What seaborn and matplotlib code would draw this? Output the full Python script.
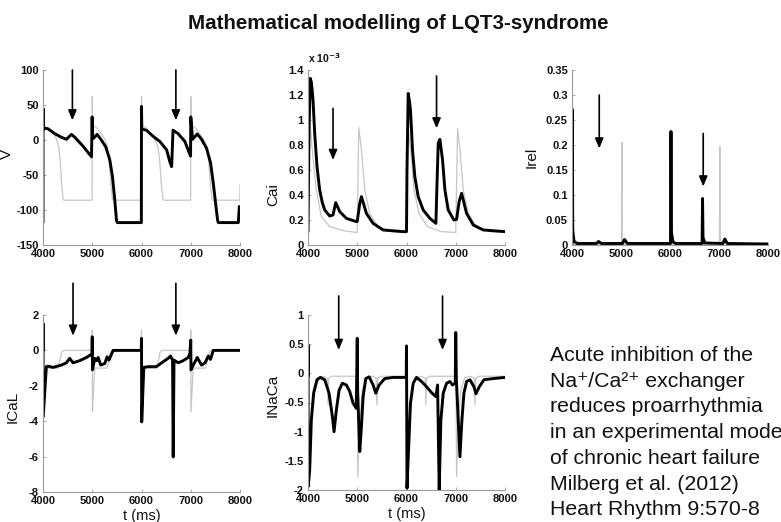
"""
plot.py - Mathematical modelling of LQT3-syndrome (five traces + citation text).
"""
import matplotlib
matplotlib.use("Agg")
import matplotlib.pyplot as plt  # noqa: E402
import matplotlib.ticker as ticker  # noqa: E402
import pandas as pd  # noqa: E402
import seaborn as sns  # noqa: E402


# ---------------------------------------------------------------------------
# Data (t in ms)
# ---------------------------------------------------------------------------
V_T_BLACK = [4000, 4001, 4006, 4035, 4100, 4240, 4370, 4475, 4578, 4645, 4815, 4985,
             4998, 5003, 5017, 5100, 5185, 5275, 5355, 5410, 5458, 5492, 5510, 5997,
             6000, 6006, 6035, 6100, 6240, 6370, 6510, 6575, 6612, 6640, 6745, 6880,
             6996, 7001, 7037, 7132, 7220, 7322, 7403, 7458, 7512, 7546, 7560, 7966, 7986]
V_BLACK = [-118, 45, 15, 17, 16, 9, 4, 1, 8, 4, -9, -24,
           33, 10, 2, 8, 0, -10, -28, -52, -86, -115, -118, -118,
           48, 15, 15, 14, 5, -2, -14, -31, -38, 14, 9, -2,
           -23, 33, 1, 8.6, 1, -12, -33, -62, -95, -115, -118, -118, -95]
V_T_GREY = [4000, 4002, 4012, 4100, 4200, 4270, 4320, 4350, 4380, 4410, 4430,
            4997, 5000, 5010, 5085, 5150, 5250, 5310, 5345, 5380, 5410, 5430,
            5997, 6000, 6010, 6085, 6150, 6260, 6335, 6370, 6405, 6435, 6455,
            6997, 7000, 7010, 7085, 7150, 7250, 7330, 7365, 7400, 7430, 7450,
            7995, 8000]
V_GREY = [-86, 60, 17, 17, 12, 2, -10, -30, -65, -85, -86,
          -86, 62, 20, 18, 12, 2, -10, -30, -65, -85, -86,
          -86, 62, 20, 18, 12, 2, -10, -30, -65, -85, -86,
          -86, 62, 20, 18, 12, 2, -10, -30, -65, -85, -86,
          -86, -64]

# Cai in units of 1e-3
CAI_T_BLACK = [4000, 4020, 4047, 4070, 4102, 4136, 4183, 4237, 4290, 4339, 4441, 4508,
               4563, 4644, 4780, 4983, 5000, 5050, 5085, 5186, 5322, 5525, 5932, 6000,
               6010, 6034, 6060, 6081, 6122, 6169, 6237, 6339, 6475, 6597, 6620, 6644,
               6678, 6732, 6780, 6847, 6963, 7017, 7070, 7119, 7220, 7356, 7559, 8000]
CAI_BLACK = [0.107, 0.9, 1.333, 1.3, 1.16, 0.893, 0.627, 0.44, 0.34, 0.28, 0.232, 0.24,
             0.339, 0.267, 0.213, 0.187, 0.19, 0.33, 0.387, 0.253, 0.173, 0.12, 0.107, 0.107,
             0.6, 1.213, 1.15, 1.08, 0.76, 0.547, 0.387, 0.28, 0.213, 0.173, 0.5, 0.813,
             0.845, 0.68, 0.44, 0.28, 0.2, 0.205, 0.35, 0.413, 0.253, 0.16, 0.12, 0.107]
CAI_T_GREY = [4000, 4020, 4040, 4060, 4100, 4170, 4270, 4441, 4712, 4990,
              5000, 5030, 5085, 5153, 5254, 5424, 5700, 5990,
              6000, 6030, 6085, 6153, 6254, 6424, 6700, 6990,
              7000, 7037, 7085, 7153, 7254, 7424, 7700, 8000]
CAI_GREY = [0.1, 0.7, 0.95, 0.9, 0.7, 0.44, 0.227, 0.147, 0.115, 0.1,
            0.1, 0.94, 0.76, 0.44, 0.253, 0.147, 0.107, 0.1,
            0.1, 0.94, 0.76, 0.44, 0.253, 0.147, 0.107, 0.1,
            0.1, 0.933, 0.76, 0.44, 0.253, 0.147, 0.107, 0.1]

IREL_T_BLACK = [4000, 4005, 4015, 4040, 4100, 4500, 4542, 4600, 5030, 5071, 5130,
                6010, 6020, 6030, 6060, 6120, 6655, 6664, 6674, 6710, 7080, 7119, 7170, 8000]
IREL_BLACK = [0.0, 0.271, 0.03, 0.008, 0.003, 0.003, 0.007, 0.003, 0.003, 0.011, 0.003,
              0.003, 0.227, 0.025, 0.006, 0.003, 0.003, 0.093, 0.015, 0.004, 0.003, 0.012, 0.003, 0.002]
IREL_T_GREY = [4000, 4004, 4010, 5010, 5017, 5024, 6010, 6016, 6022, 7010, 7017, 7024, 8000]
IREL_GREY = [0.0, 0.2, 0.002, 0.002, 0.205, 0.002, 0.002, 0.2, 0.002, 0.002, 0.197, 0.002, 0.002]

ICAL_T_BLACK = [4000, 4001, 4004, 4068, 4100, 4203, 4373, 4475, 4542, 4610, 4746, 4881,
                4963, 4995, 5000, 5005, 5051, 5090, 5119, 5173, 5254, 5302, 5340, 5397,
                5424, 5995, 6000, 6004, 6047, 6136, 6300, 6441, 6540, 6590, 6631, 6644,
                6660, 6746, 6847, 6949, 6983, 7000, 7005, 7051, 7132, 7220, 7290, 7356,
                7400, 7458, 8000]
ICAL_BLACK = [0, 1.53, -3.75, -0.92, -0.89, -0.96, -0.83, -0.7, -0.45, -0.7, -0.58, -0.4,
              -0.26, -0.2, 0.77, -1.1, -0.45, -0.58, -0.4, -0.83, -0.74, -0.36, -0.55, -0.17,
              0, 0, 0.68, -4.04, -0.96, -0.92, -0.92, -0.64, -0.45, -0.32, -0.55, -6.02,
              -0.55, -0.7, -0.58, -0.4, -0.17, 0.58, -1.1, -0.83, -0.4, -0.83, -0.7, -0.32,
              -0.51, 0, 0]
ICAL_T_GREY = [4000, 4001, 4004, 4060, 4300, 4340, 4380, 4420,
               4995, 5000, 5004, 5050, 5300, 5340, 5380, 5420,
               5995, 6000, 6004, 6050, 6300, 6340, 6380, 6420,
               6995, 7000, 7004, 7050, 7300, 7340, 7380, 7420, 8000]
ICAL_GREY = [0, 1.2, -3.5, -1.0, -1.0, -0.6, -0.1, 0,
             0, 1.15, -3.47, -1.0, -1.0, -0.6, -0.1, 0,
             0, 1.15, -3.47, -1.0, -1.0, -0.6, -0.1, 0,
             0, 1.15, -3.47, -1.0, -1.0, -0.6, -0.1, 0, 0]

INACA_T_BLACK = [4000, 4001, 4005, 4034, 4068, 4115, 4183, 4251, 4339, 4427, 4495, 4529,
                 4576, 4631, 4698, 4780, 4847, 4915, 4980, 5000, 5008, 5051, 5085, 5119,
                 5173, 5241, 5322, 5376, 5444, 5559, 5729, 5995, 6000, 6010, 6047, 6081,
                 6136, 6203, 6305, 6407, 6508, 6597, 6631, 6664, 6698, 6746, 6814, 6881,
                 6936, 6990, 7000, 7012, 7085, 7125, 7166, 7220, 7288, 7369, 7410, 7478,
                 7573, 7763, 8000]
INACA_BLACK = [-0.05, 0.49, -1.94, -1.66, -0.8, -0.34, -0.11, -0.07, -0.11, -0.34, -0.74, -1.0,
               -0.63, -0.29, -0.17, -0.2, -0.31, -0.51, -0.6, 0.6, -0.3, -1.34, -0.91, -0.4,
               -0.09, -0.06, -0.2, -0.34, -0.2, -0.09, -0.07, -0.07, 0.47, -1.97, -1.2, -0.51,
               -0.17, -0.07, -0.14, -0.23, -0.33, -0.4, -0.2, -2.0, -0.8, -0.34, -0.17, -0.14,
               -0.2, -0.17, 0.7, -0.1, -1.43, -0.8, -0.34, -0.14, -0.11, -0.23, -0.35, -0.23,
               -0.11, -0.09, -0.07]
INACA_T_GREY = [4000, 4001, 4005, 4040, 4100, 4180, 4300, 4390, 4407, 4422, 4480,
                4995, 5000, 5012, 5040, 5100, 5180, 5300, 5383, 5400, 5415, 5480,
                5995, 6000, 6005, 6040, 6100, 6180, 6300, 6378, 6393, 6408, 6480,
                6995, 7000, 7017, 7045, 7100, 7180, 7300, 7373, 7390, 7405, 7480, 8000]
INACA_GREY = [-0.05, 0.4, -1.8, -1.0, -0.3, -0.08, -0.05, -0.08, -0.54, -0.08, -0.05,
              -0.05, 0.5, -1.77, -1.0, -0.3, -0.08, -0.05, -0.08, -0.54, -0.08, -0.05,
              -0.05, 0.4, -1.8, -1.0, -0.3, -0.08, -0.05, -0.08, -0.54, -0.08, -0.05,
              -0.05, 0.5, -1.77, -1.0, -0.3, -0.08, -0.05, -0.08, -0.54, -0.08, -0.05, -0.05]

# arrows: (t, y_start, y_end)
V_ARROWS = [(4597, 100, 28), (6698, 100, 28)]
CAI_ARROWS = [(4508, 1.093, 0.68), (6610, 1.352, 0.933)]
IREL_ARROWS = [(4556, 0.30, 0.193), (6678, 0.223, 0.117)]
ICAL_ARROWS = [(4610, 3.79, 0.83), (6698, 3.79, 0.83)]
INACA_ARROWS = [(4624, 1.326, 0.40), (6732, 1.326, 0.40)]

X_TICKS = [4000, 5000, 6000, 7000, 8000]
V_TICKS = [-150, -100, -50, 0, 50, 100]
CAI_TICKS = [0, 0.2, 0.4, 0.6, 0.8, 1.0, 1.2, 1.4]
IREL_TICKS = [0, 0.05, 0.1, 0.15, 0.2, 0.25, 0.3, 0.35]
ICAL_TICKS = [-8, -6, -4, -2, 0, 2]
INACA_TICKS = [-2, -1.5, -1, -0.5, 0, 0.5, 1]

TITLE = "Mathematical modelling of LQT3-syndrome"
NOTE_LINES = [
    "Acute inhibition of the",
    "Na\u207a/Ca\u00b2\u207a exchanger",
    "reduces proarrhythmia",
    "in an experimental model",
    "of chronic heart failure",
    "Milberg et al. (2012)",
    "Heart Rhythm 9:570-8",
]

# ---------------------------------------------------------------------------
# Style
# ---------------------------------------------------------------------------
sns.set_theme(style="white")
plt.rcParams["font.family"] = ["Liberation Sans", "DejaVu Sans"]

GREY = "#c6c6c6"
SPINE = "#9a9a9a"
INK = "#111111"

W, H = 781, 522


def _rect(x0, x1, y0, y1):
    """Pixel box -> figure fraction [left, bottom, width, height]."""
    return [x0 / W, 1 - y1 / H, (x1 - x0) / W, (y1 - y0) / H]


def _trace(ax, t, v, color, lw):
    df = pd.DataFrame({"t": t, "v": v})
    sns.lineplot(data=df, x="t", y="v", ax=ax, color=color, lw=lw,
                 estimator=None, sort=False)


def _panel(fig, box, t_grey, grey, t_black, black, ylim, yticks, ylabel,
           label_xy, arrows, xlabel=None):
    ax = fig.add_axes(_rect(*box))
    _trace(ax, t_grey, grey, GREY, 0.9)
    _trace(ax, t_black, black, "black", 2.1)

    ax.set_xlim(4000, 8000)
    ax.set_ylim(*ylim)
    ax.set_xticks(X_TICKS)
    ax.set_yticks(yticks)
    fmt = ticker.FuncFormatter(lambda v, _: f"{v:g}")
    ax.xaxis.set_major_formatter(fmt)
    ax.yaxis.set_major_formatter(fmt)
    ax.tick_params(direction="in", length=2.5, width=0.6, color=SPINE,
                   labelsize=8, pad=3, bottom=True, left=True)
    for lab in ax.get_xticklabels() + ax.get_yticklabels():
        lab.set_fontweight("bold")
        lab.set_color(INK)

    sns.despine(ax=ax)
    for side in ("left", "bottom"):
        ax.spines[side].set_color(SPINE)
        ax.spines[side].set_linewidth(0.8)

    ax.set_ylabel(ylabel, fontsize=11, color=INK)
    ax.yaxis.set_label_coords(*label_xy)
    if xlabel:
        ax.set_xlabel(xlabel, fontsize=10.5, color=INK, labelpad=2)
    else:
        ax.set_xlabel("")

    for t, y0, y1 in arrows:
        ax.annotate("", xy=(t, y1), xytext=(t, y0), annotation_clip=False,
                    arrowprops=dict(arrowstyle="-|>,head_length=0.6,head_width=0.25",
                                    color="black", lw=1.2, shrinkA=0, shrinkB=0,
                                    mutation_scale=10))
    return ax


fig = plt.figure(figsize=(W / 100, H / 100), dpi=100)

_panel(fig, (43, 240, 70, 245), V_T_GREY, V_GREY, V_T_BLACK, V_BLACK,
       (-150, 100), V_TICKS, "V", (-0.145, 0.52), V_ARROWS)
ax_cai = _panel(fig, (308, 505, 70, 245), CAI_T_GREY, CAI_GREY, CAI_T_BLACK, CAI_BLACK,
                (0, 1.4), CAI_TICKS, "Cai", (-0.14, 0.29), CAI_ARROWS)
_panel(fig, (572, 768, 70, 245), IREL_T_GREY, IREL_GREY, IREL_T_BLACK, IREL_BLACK,
       (0, 0.35), IREL_TICKS, "Irel", (-0.17, 0.5), IREL_ARROWS)
_panel(fig, (43, 240, 315, 492), ICAL_T_GREY, ICAL_GREY, ICAL_T_BLACK, ICAL_BLACK,
       (-8, 2), ICAL_TICKS, "ICaL", (-0.12, 0.48), ICAL_ARROWS, xlabel="t (ms)")
_panel(fig, (308, 505, 315, 490), INACA_T_GREY, INACA_GREY, INACA_T_BLACK, INACA_BLACK,
       (-2, 1), INACA_TICKS, "INaCa", (-0.145, 0.54), INACA_ARROWS, xlabel="t (ms)")

ax_cai.text(0.0, 1.03, r"x 10$^{\mathbf{-3}}$", transform=ax_cai.transAxes,
            fontsize=7.5, fontweight="bold", ha="left", va="bottom", color=INK)

fig.text(398 / W, 1 - 29 / H, TITLE, ha="center", va="baseline",
         fontsize=14.8, fontweight="bold", color=INK)

for i, line in enumerate(NOTE_LINES):
    fig.text(550 / W, 1 - (361 + 25.7 * i) / H, line, ha="left", va="baseline",
             fontsize=15.3, color=INK, family=["Liberation Sans", "DejaVu Sans"])

fig.savefig("out.png", dpi=100)
plt.close(fig)
